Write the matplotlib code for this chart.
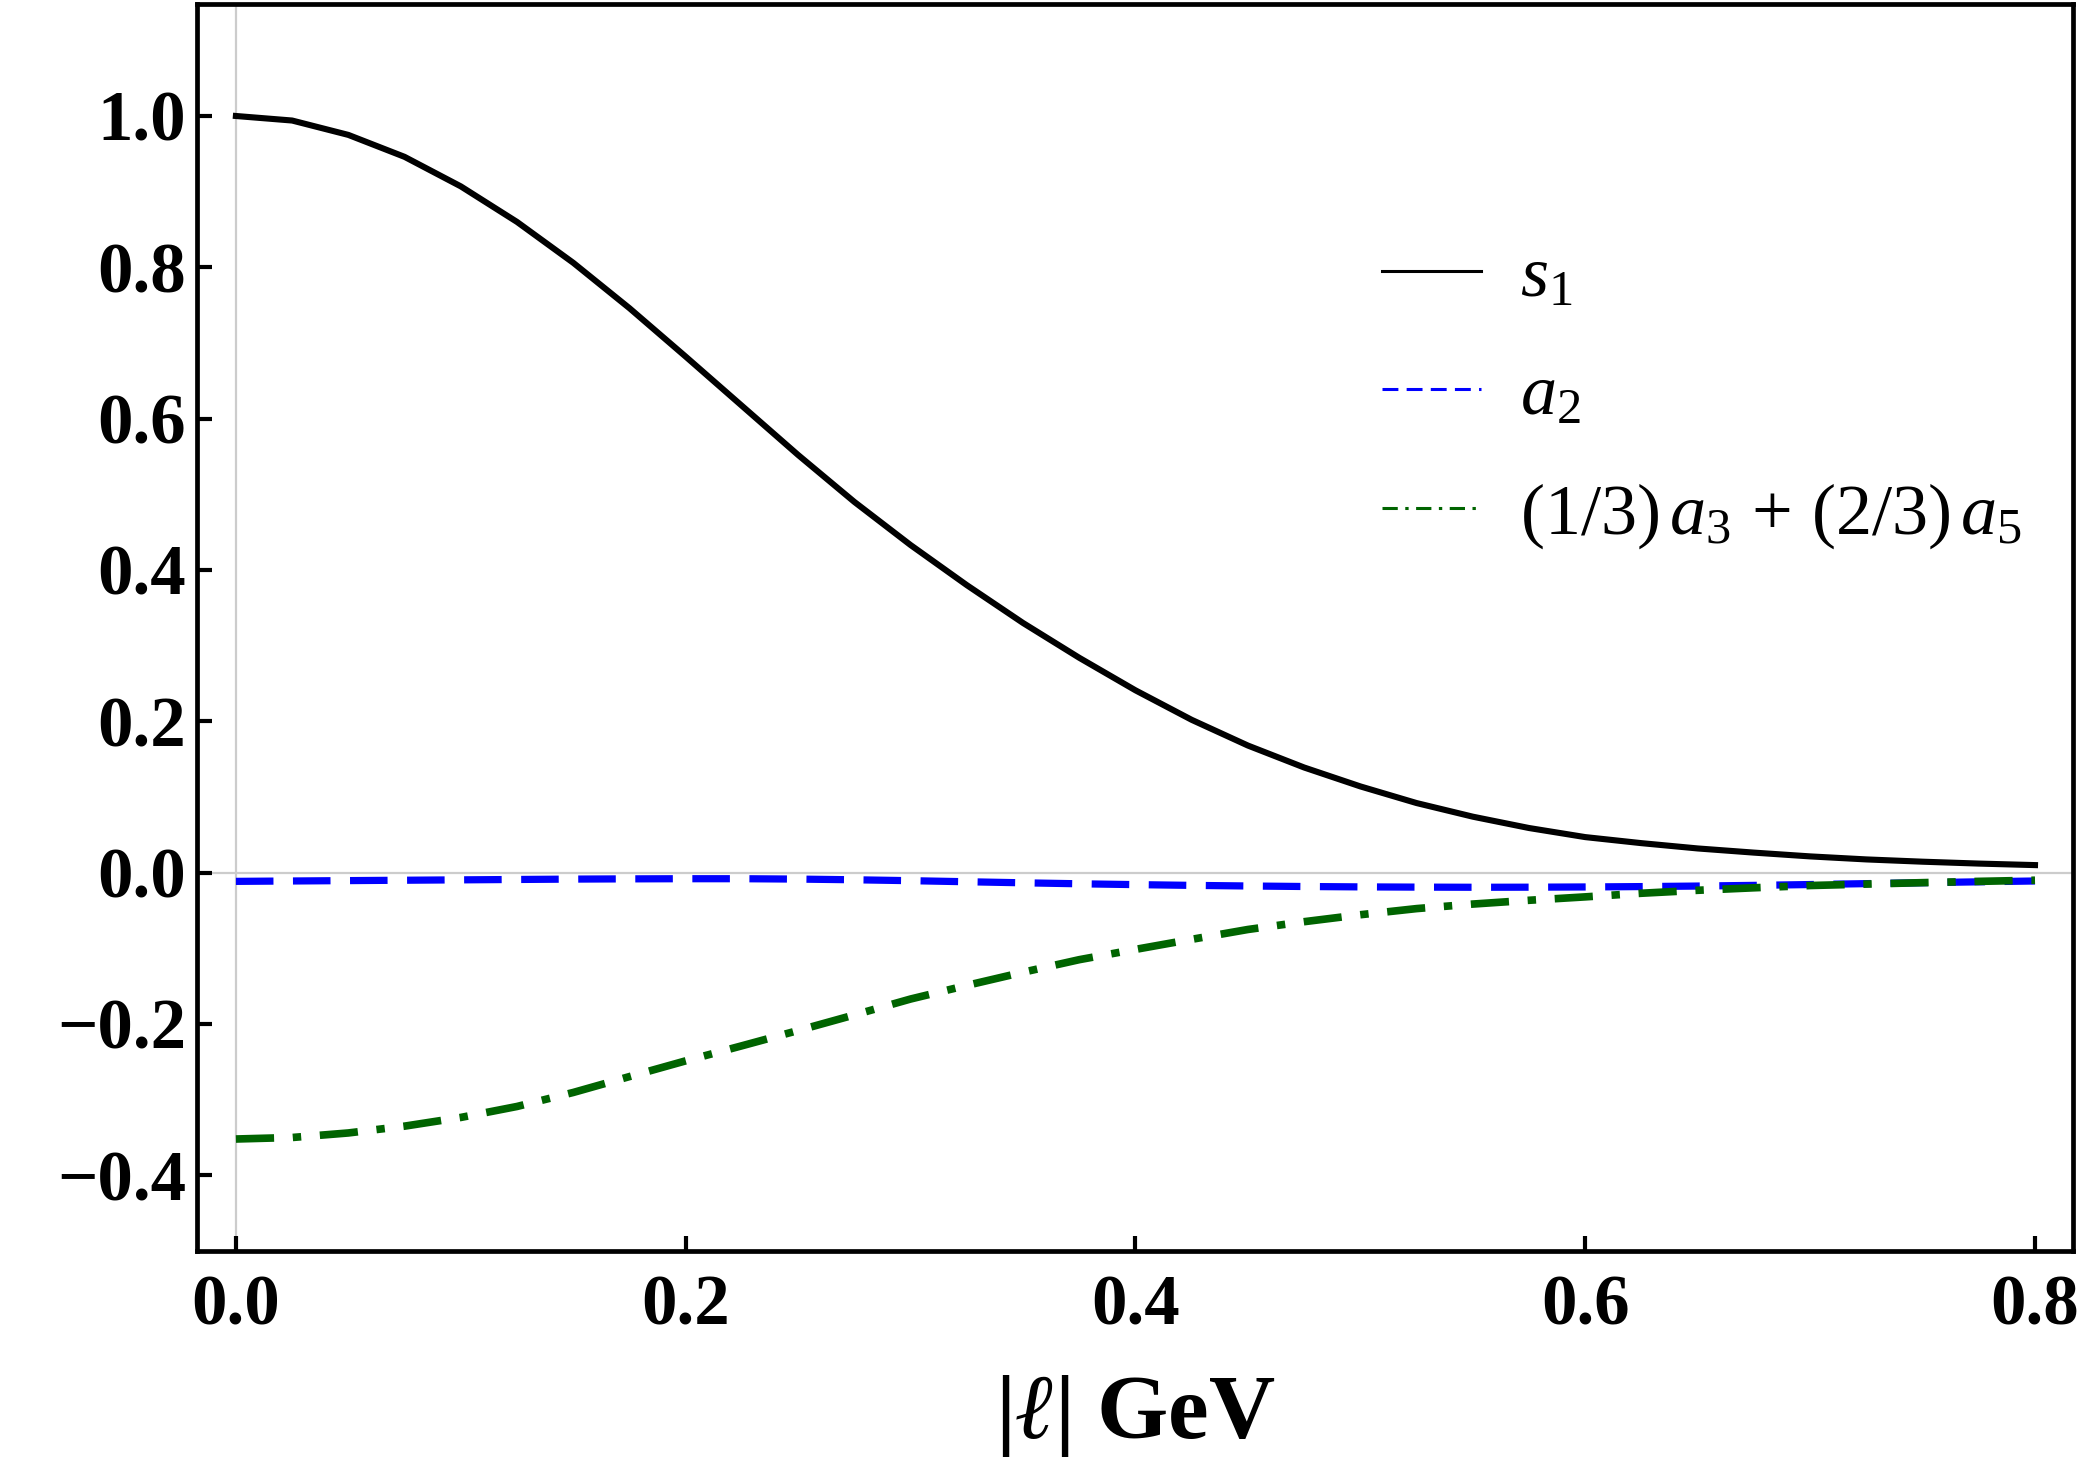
import matplotlib
matplotlib.use("Agg")
import matplotlib.pyplot as plt

# ---- data ----
l_vals = [0.000, 0.025, 0.050, 0.075, 0.100, 0.125, 0.150, 0.175, 0.200, 0.225,
          0.250, 0.275, 0.300, 0.325, 0.350, 0.375, 0.400, 0.425, 0.450, 0.475,
          0.500, 0.525, 0.550, 0.575, 0.600, 0.625, 0.650, 0.675, 0.700, 0.725,
          0.750, 0.775, 0.800]
s1 = [1.000, 0.994, 0.975, 0.946, 0.907, 0.860, 0.806, 0.746, 0.682, 0.617,
      0.552, 0.490, 0.433, 0.380, 0.330, 0.284, 0.241, 0.202, 0.168, 0.139,
      0.114, 0.092, 0.074, 0.059, 0.047, 0.039, 0.032, 0.0265, 0.0215, 0.0175,
      0.0145, 0.012, 0.010]
a2 = [-0.0115, -0.0110, -0.0105, -0.0100, -0.0095, -0.0090, -0.0085, -0.0082, -0.0080, -0.0080,
      -0.0085, -0.0094, -0.0106, -0.0120, -0.0134, -0.0147, -0.0158, -0.0168, -0.0176, -0.0183,
      -0.0188, -0.0191, -0.0193, -0.0192, -0.0189, -0.0184, -0.0177, -0.0168, -0.0157, -0.0145,
      -0.0133, -0.0121, -0.0110]
a35 = [-0.352, -0.350, -0.344, -0.335, -0.3235, -0.309, -0.2905, -0.2695, -0.2487, -0.2288,
       -0.2086, -0.188, -0.167, -0.149, -0.1316, -0.115, -0.1014, -0.0881, -0.0751, -0.0648,
       -0.0556, -0.0475, -0.0415, -0.0365, -0.032, -0.0272, -0.0233, -0.020, -0.017, -0.0151,
       -0.0132, -0.0115, -0.010]

series_labels = [r"$s_1$", r"$a_2$", r"$(1/3)\,a_3\,+\,(2/3)\,a_5$"]
xticks = [0.0, 0.2, 0.4, 0.6, 0.8]
xtick_labels = ["0.0", "0.2", "0.4", "0.6", "0.8"]
yticks = [-0.4, -0.2, 0.0, 0.2, 0.4, 0.6, 0.8, 1.0]
ytick_labels = ["\u22120.4", "\u22120.2", "0.0", "0.2", "0.4", "0.6", "0.8", "1.0"]
xlabel = r"$\mathbf{|}\mathbfit{\ell}\mathbf{|\ GeV}$"

# ---- style ----
plt.rcParams["font.family"] = ["Liberation Serif", "DejaVu Serif"]
plt.rcParams["mathtext.fontset"] = "custom"
plt.rcParams["mathtext.rm"] = "Liberation Serif"
plt.rcParams["mathtext.it"] = "Liberation Serif:italic"
plt.rcParams["mathtext.bf"] = "Liberation Serif:bold"
try:
    plt.rcParams["mathtext.bfit"] = "Liberation Serif:italic:bold"
except KeyError:
    xlabel = "|\u2113| GeV"

W, H = 2084, 1465
fig = plt.figure(figsize=(W / 100, H / 100), dpi=100)
ax = fig.add_axes([197 / W, 1 - 1251 / H, (2073 - 197) / W, (1251 - 4) / H])

ax.axhline(0, color="#cccccc", lw=1.6, zorder=1)
ax.axvline(0, color="#cccccc", lw=1.6, zorder=1)

ax.plot(l_vals, s1, color="black", lw=4.4, label=series_labels[0], zorder=3)
ax.plot(l_vals, a2, color="#0000ff", lw=5.2, label=series_labels[1], zorder=3,
        dashes=(5.2, 2.7), dash_capstyle="butt")
ax.plot(l_vals, a35, color="#006400", lw=5.5, label=series_labels[2], zorder=3,
        dashes=(5.0, 2.45, 1.1, 2.45), dash_capstyle="butt")

ax.set_xlim(-0.0173, 0.8169)
ax.set_ylim(-0.5, 1.148)

ax.set_xticks(xticks)
ax.set_xticklabels(xtick_labels)
ax.set_yticks(yticks)
ax.set_yticklabels(ytick_labels)
ax.tick_params(axis="both", which="major", direction="in", length=11, width=3,
               labelsize=51, top=False, right=False)
ax.tick_params(axis="x", pad=17)
ax.tick_params(axis="y", pad=8)
for lab in ax.get_xticklabels() + ax.get_yticklabels():
    lab.set_fontweight("bold")

for sp in ax.spines.values():
    sp.set_linewidth(3.4)
    sp.set_color("black")

ax.set_xlabel(xlabel, fontsize=66, fontweight="bold", labelpad=24)

leg = ax.legend(loc="upper left", bbox_to_anchor=(0.6317, 0.806), frameon=False,
                fontsize=52, handlelength=1.37, handletextpad=0.54,
                labelspacing=0.72, borderaxespad=0, borderpad=0)
for line in leg.get_lines():
    line.set_linewidth(2.2)

fig.savefig("out.png", dpi=100)
